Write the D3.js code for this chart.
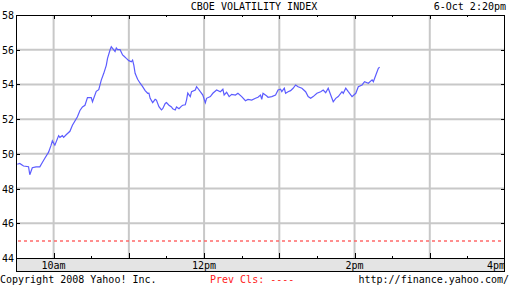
<!DOCTYPE html>
<html lang="en">
<head>
  <meta charset="UTF-8" />
  <title>CBOE Volatility Index</title>
  <style>
    body { margin: 0; background: #fff; }
    svg text { font-family: "DejaVu Sans Mono", monospace; font-size: 10px; fill: #000; }
    .grid line { stroke: #c8c8c8; stroke-width: 2px; }
    .data-line { fill: none; stroke: #5c5cff; stroke-width: 1.2px; }
    .frame { fill: none; stroke: #000; stroke-width: 1px; }
    .tick-mark { stroke: #000; stroke-width: 1px; }
  </style>
</head>
<body>
  <script src="https://cdn.jsdelivr.net/npm/d3@7"></script>
  <script>
    var w = 510;
    var h = 286;
    var margin = { top: 15, right: 5, bottom: 28, left: 16 };

    // chart data
    var times = ["9:31","9:33","9:36","9:40","9:41","9:43","9:46","9:49","9:51","9:53","9:56","9:58","9:59",
      "10:01","10:04","10:05","10:07","10:08","10:10","10:13","10:15","10:19","10:21","10:23","10:25","10:27",
      "10:30","10:31","10:34","10:36","10:38","10:40","10:42","10:43","10:45","10:46","10:47","10:49","10:50",
      "10:51","10:53","10:55","10:56","10:58","11:00","11:02","11:03","11:04","11:05","11:07","11:09","11:11",
      "11:13","11:15","11:16","11:17","11:19","11:21","11:22","11:24","11:26","11:27","11:29","11:30","11:32",
      "11:34","11:35","11:37","11:38","11:40","11:42","11:43","11:45","11:46","11:47","11:49","11:50","11:53",
      "11:54","11:55","11:57","11:59","12:01","12:02","12:05","12:07","12:10","12:13","12:15","12:16","12:18",
      "12:20","12:22","12:25","12:27","12:30","12:33","12:35","12:38","12:41","12:43","12:45","12:46","12:47",
      "12:50","12:51","12:54","12:57","12:59","13:01","13:02","13:04","13:05","13:07","13:09","13:11","13:13",
      "13:15","13:18","13:21","13:23","13:25","13:27","13:30","13:33","13:35","13:37","13:39","13:41","13:43",
      "13:45","13:47","13:50","13:51","13:53","13:55","13:58","14:01","14:03","14:06","14:08","14:11","14:14",
      "14:15","14:17","14:19","14:20"];
    var values = [49.4,49.45,49.3,49.26,48.8,49.2,49.25,49.25,49.5,49.75,50.1,50.5,50.75,
      50.5,51.05,50.95,51.05,50.95,51.1,51.3,51.65,52.14,52.5,52.7,52.8,53.24,
      53.24,53.0,53.6,53.7,54.25,54.64,55.1,55.5,55.98,56.17,56.08,55.9,56.1,
      56.0,56.0,55.7,55.64,55.5,55.37,55.3,55.4,55.1,54.64,54.3,54.07,53.87,
      53.64,53.49,53.5,53.2,52.95,53.14,53.1,52.72,52.53,52.6,52.9,52.95,52.8,
      52.7,52.6,52.53,52.7,52.6,52.75,52.8,52.83,53.1,53.5,53.3,53.58,53.68,
      53.87,53.78,53.58,53.39,52.95,53.2,53.3,53.49,53.68,53.58,53.72,53.39,53.55,
      53.3,53.43,53.39,53.49,53.3,53.06,53.14,53.1,53.2,53.26,53.39,53.14,53.49,
      53.33,53.26,53.3,53.39,53.68,53.72,53.58,53.78,53.49,53.58,53.64,53.78,53.97,
      53.87,53.78,53.58,53.3,53.2,53.3,53.49,53.58,53.68,53.52,53.78,53.39,53.0,
      53.2,53.3,53.58,53.49,53.78,53.58,53.3,53.49,53.87,53.97,54.16,54.07,54.26,
      54.16,54.54,54.93,55.0];
    var yTicks = [44, 46, 48, 50, 52, 54, 56, 58];
    var hourTicks = ["10:00","11:00","12:00","13:00","14:00","15:00"];
    var halfTicks = ["10:30","11:30","12:30","13:30","14:30","15:30"];
    var xLabels = [["10:00","10am"],["12:00","12pm"],["14:00","2pm"],["16:00","4pm"]];
    var prevClose = 45;
    var dayStart = "9:30", dayEnd = "16:00";

    var parseTime = d3.timeParse("%H:%M");
    var data = times.map(function(t, i) {
      return { date: parseTime(t), value: values[i] };
    });

    var innerW = w - margin.left - margin.right;
    var innerH = 258 - margin.top;

    var svg = d3.select("body").append("svg")
      .attr("width", w)
      .attr("height", h);

    var xScale = d3.scaleTime()
      .domain([parseTime(dayStart), parseTime(dayEnd)])
      .range([margin.left, margin.left + innerW]);

    var yScale = d3.scaleLinear()
      .domain([44, 58])
      .range([margin.top + innerH, margin.top]);

    // bottom label band
    svg.append("rect")
      .attr("x", margin.left + 0.5)
      .attr("y", yScale(44) + 0.5)
      .attr("width", innerW - 1)
      .attr("height", 13)
      .attr("fill", "#e4e4e4")
      .attr("stroke", "#000");

    // gridlines
    var grid = svg.append("g").attr("class", "grid");
    grid.selectAll(".hgrid")
      .data(yTicks.slice(1, -1))
      .enter().append("line")
      .attr("x1", margin.left)
      .attr("x2", margin.left + innerW)
      .attr("y1", function(d) { return yScale(d); })
      .attr("y2", function(d) { return yScale(d); });
    grid.selectAll(".vgrid")
      .data(hourTicks)
      .enter().append("line")
      .attr("x1", function(d) { return xScale(parseTime(d)); })
      .attr("x2", function(d) { return xScale(parseTime(d)); })
      .attr("y1", margin.top)
      .attr("y2", margin.top + innerH);

    // previous close
    svg.append("line")
      .attr("x1", margin.left + 2)
      .attr("x2", margin.left + innerW - 4)
      .attr("y1", Math.round(yScale(prevClose)))
      .attr("y2", Math.round(yScale(prevClose)))
      .attr("stroke", "#ff6a6a")
      .attr("stroke-width", 1.6)
      .attr("stroke-dasharray", "3,3");

    // data line
    var line = d3.line()
      .x(function(d) { return xScale(d.date); })
      .y(function(d) { return yScale(d.value); });

    svg.append("path")
      .datum(data)
      .attr("class", "data-line")
      .attr("d", line);

    // tick marks
    var ticks = svg.append("g");
    yTicks.forEach(function(v) {
      var y = Math.round(yScale(v)) + 0.5;
      ticks.append("line").attr("class", "tick-mark")
        .attr("x1", margin.left).attr("x2", margin.left + 4).attr("y1", y).attr("y2", y);
      ticks.append("line").attr("class", "tick-mark")
        .attr("x1", margin.left + innerW - 4).attr("x2", margin.left + innerW).attr("y1", y).attr("y2", y);
    });
    hourTicks.forEach(function(t) {
      var x = Math.round(xScale(parseTime(t))) + 0.5;
      ticks.append("line").attr("class", "tick-mark")
        .attr("x1", x).attr("x2", x).attr("y1", margin.top).attr("y2", margin.top + 4);
      ticks.append("line").attr("class", "tick-mark")
        .attr("x1", x).attr("x2", x).attr("y1", yScale(44) - 5).attr("y2", yScale(44));
    });
    halfTicks.forEach(function(t) {
      var x = Math.round(xScale(parseTime(t))) + 0.5;
      ticks.append("line").attr("class", "tick-mark")
        .attr("x1", x).attr("x2", x).attr("y1", margin.top).attr("y2", margin.top + 2);
      ticks.append("line").attr("class", "tick-mark")
        .attr("x1", x).attr("x2", x).attr("y1", yScale(44) - 2).attr("y2", yScale(44));
    });

    // frame
    svg.append("path")
      .attr("class", "frame")
      .attr("d", "M" + (margin.left + 0.5) + "," + (yScale(44) + 13.5) +
        "V" + (margin.top + 0.5) + "H" + (margin.left + innerW - 0.5) + "V" + (yScale(44) + 13.5));

    // y labels
    svg.selectAll(".ylabel")
      .data(yTicks)
      .enter().append("text")
      .attr("x", 14)
      .attr("y", function(d) { return yScale(d) + 4; })
      .attr("text-anchor", "end")
      .text(function(d) { return d; });

    // x labels
    svg.selectAll(".xlabel")
      .data(xLabels)
      .enter().append("text")
      .attr("x", function(d) { return xScale(parseTime(d[0])); })
      .attr("y", yScale(44) + 11)
      .attr("text-anchor", function(d, i) { return i == xLabels.length - 1 ? "end" : "middle"; })
      .text(function(d) { return d[1]; });

    // title and footer
    svg.append("text").attr("x", 254).attr("y", 10).attr("text-anchor", "middle")
      .text("CBOE VOLATILITY INDEX");
    svg.append("text").attr("x", 506).attr("y", 10).attr("text-anchor", "end")
      .text("6-Oct 2:20pm");
    svg.append("text").attr("x", 0).attr("y", 283)
      .text("Copyright 2008 Yahoo! Inc.");
    svg.append("text").attr("x", 210).attr("y", 283).style("fill", "#ff2020")
      .text("Prev Cls: ----");
    svg.append("text").attr("x", 509).attr("y", 283).attr("text-anchor", "end")
      .text("http://finance.yahoo.com/");
  </script>
</body>
</html>
